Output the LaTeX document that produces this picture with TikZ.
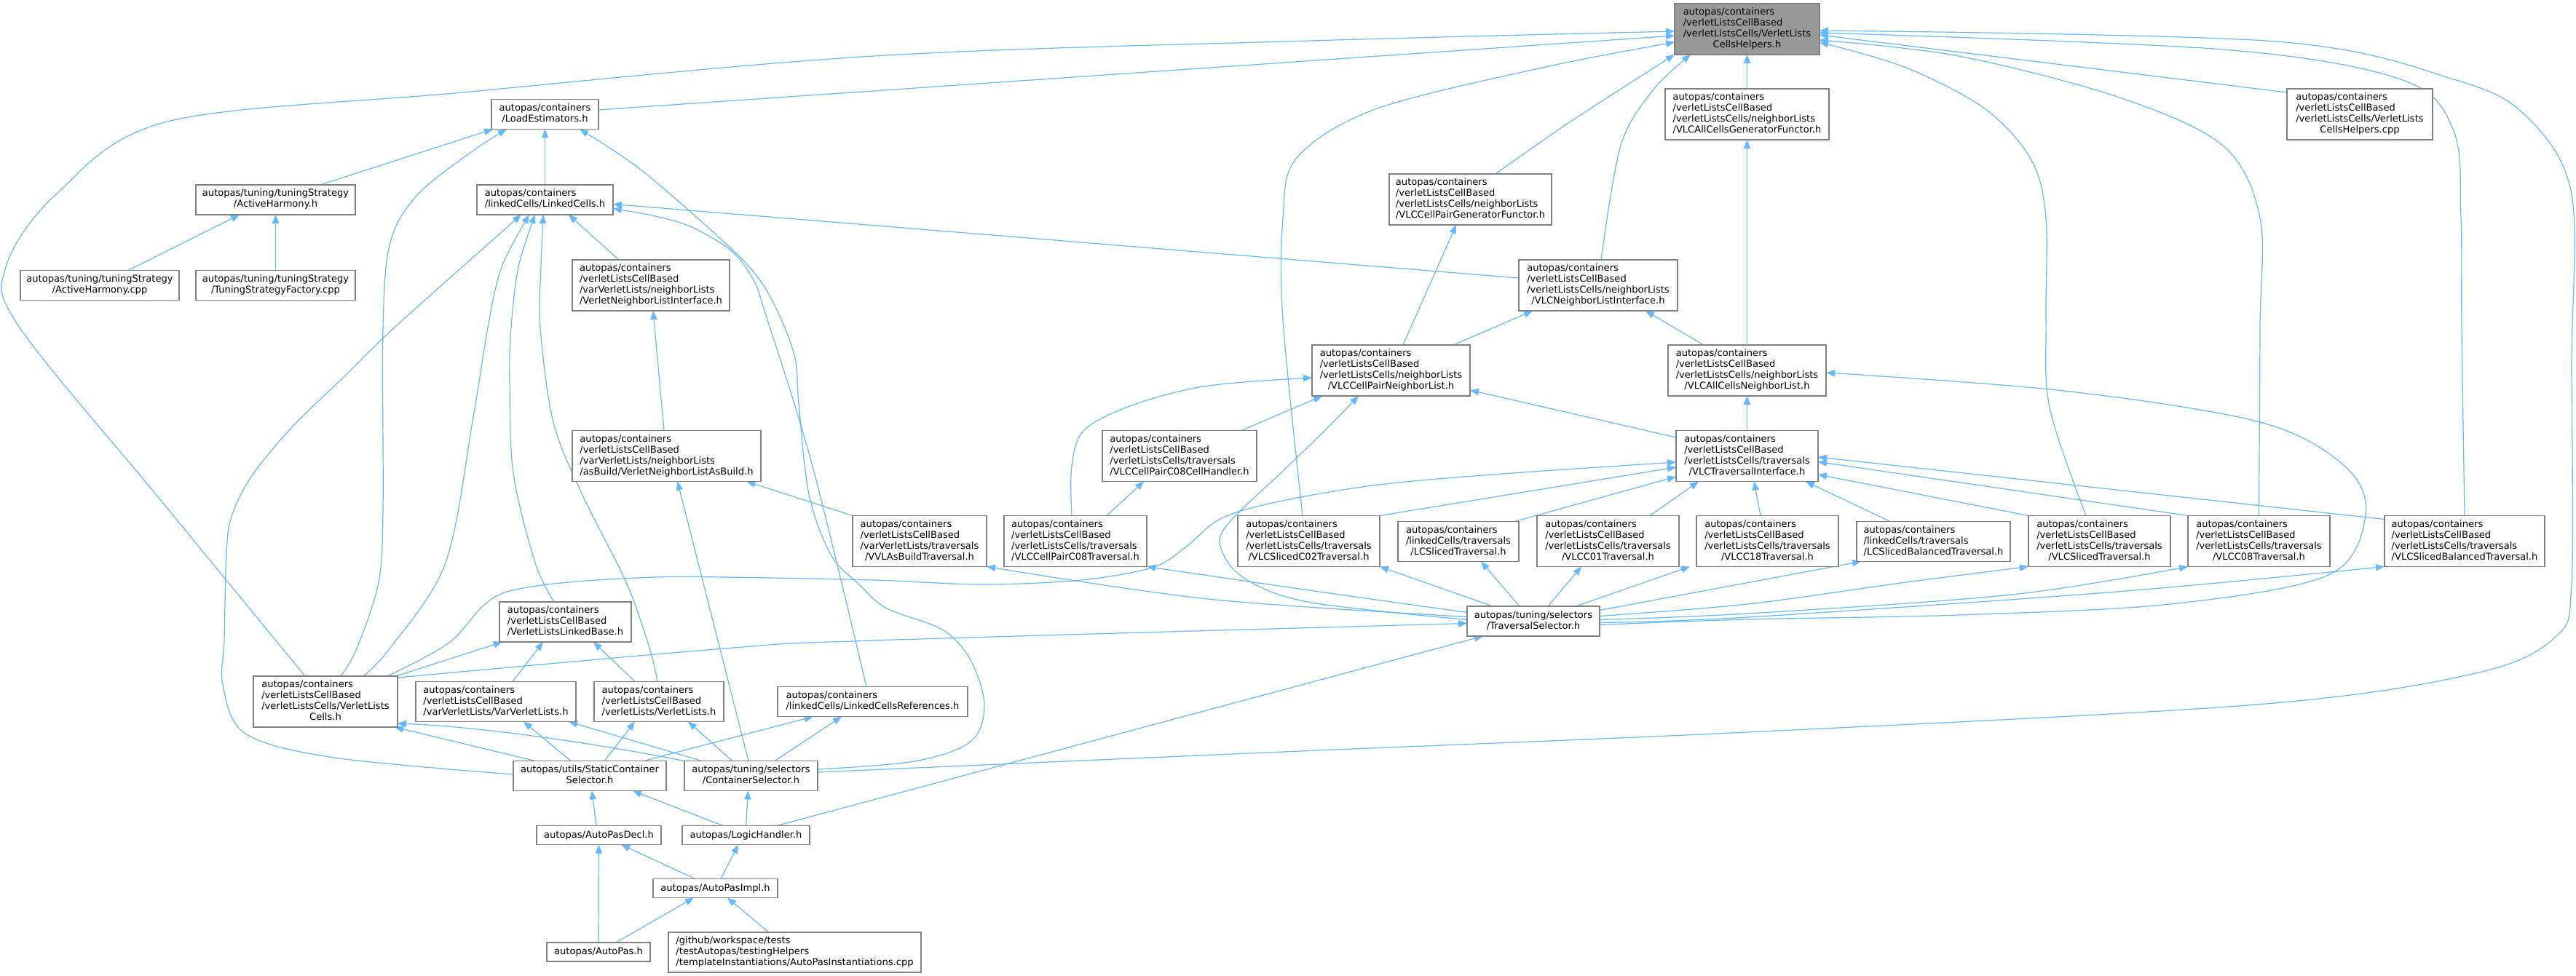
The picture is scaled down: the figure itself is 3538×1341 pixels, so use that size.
\documentclass[tikz,border=0pt]{standalone}
\usepackage{fontspec}
\setmainfont{DejaVu Sans}
\usetikzlibrary{arrows.meta,calc}
\definecolor{edgec}{HTML}{63B8FF}
\definecolor{boxc}{HTML}{808080}
\definecolor{mainf}{HTML}{999999}
\newcommand{\ml}[2]{\begin{tabular}{@{}l@{}}#1\\\multicolumn{1}{@{}c@{}}{#2}\end{tabular}}
\pgfdeclarelayer{bg}
\pgfsetlayers{bg,main}
\tikzset{
  box/.style={draw=boxc, fill=white, line width=1.1pt, inner sep=0pt, outer sep=0pt,
    font=\fontsize{9.8pt}{11.25pt}\selectfont},
  sz/.style 2 args={minimum width=#1*0.75pt, minimum height=#2*0.75pt},
  dep/.style={draw=edgec, line width=0.9pt, -{Triangle[length=9pt,width=7pt]}},
  sm/.style={smooth, tension=0.55}
}
\begin{document}
\begin{tikzpicture}[x=0.75pt,y=-0.75pt]
\renewcommand{\arraystretch}{1}
\useasboundingbox (0,0) rectangle (3538,1341);
% nodes
\node[box,sz={199}{70},fill=mainf] (main) at (2399.5,40) {\ml{autopas/containers\\/verletListsCellBased\\/verletListsCells/VerletLists}{CellsHelpers.h}};
\node[box,sz={147}{41}] (le) at (748.5,157) {\ml{autopas/containers}{/LoadEstimators.h}};
\node[box,sz={219}{41}] (ahh) at (378.5,274.5) {\ml{autopas/tuning/tuningStrategy}{/ActiveHarmony.h}};
\node[box,sz={187}{41}] (lc) at (748.5,274.5) {\ml{autopas/containers}{/linkedCells/LinkedCells.h}};
\node[box,sz={218}{41}] (ahcpp) at (137,392) {\ml{autopas/tuning/tuningStrategy}{/ActiveHarmony.cpp}};
\node[box,sz={219}{41}] (tsf) at (378.5,392) {\ml{autopas/tuning/tuningStrategy}{/TuningStrategyFactory.cpp}};
\node[box,sz={216}{70}] (vnli) at (894,392) {\ml{autopas/containers\\/verletListsCellBased\\/varVerletLists/neighborLists}{/VerletNeighborListInterface.h}};
\node[box,sz={225}{70}] (vlcacgf) at (2399.5,157) {\ml{autopas/containers\\/verletListsCellBased\\/verletListsCells/neighborLists}{/VLCAllCellsGeneratorFunctor.h}};
\node[box,sz={223}{70}] (vlccpgf) at (2019.5,274) {\ml{autopas/containers\\/verletListsCellBased\\/verletListsCells/neighborLists}{/VLCCellPairGeneratorFunctor.h}};
\node[box,sz={218}{70}] (vlcnli) at (2195,392) {\ml{autopas/containers\\/verletListsCellBased\\/verletListsCells/neighborLists}{/VLCNeighborListInterface.h}};
\node[box,sz={200}{70}] (hcpp) at (3241,157) {\ml{autopas/containers\\/verletListsCellBased\\/verletListsCells/VerletLists}{CellsHelpers.cpp}};
\node[box,sz={259}{70}] (vnlab) at (915.5,626.5) {\ml{autopas/containers\\/verletListsCellBased\\/varVerletLists/neighborLists}{/asBuild/VerletNeighborListAsBuild.h}};
\node[box,sz={181}{55}] (vllb) at (776.5,854.5) {\ml{autopas/containers\\/verletListsCellBased}{/VerletListsLinkedBase.h}};
\node[box,sz={184}{70}] (vvlabt) at (1263,743.5) {\ml{autopas/containers\\/verletListsCellBased\\/varVerletLists/traversals}{/VVLAsBuildTraversal.h}};
\node[box,sz={217}{70}] (vlccpnl) at (1910.5,509) {\ml{autopas/containers\\/verletListsCellBased\\/verletListsCells/neighborLists}{/VLCCellPairNeighborList.h}};
\node[box,sz={217}{70}] (vlcacnl) at (2399.5,509) {\ml{autopas/containers\\/verletListsCellBased\\/verletListsCells/neighborLists}{/VLCAllCellsNeighborList.h}};
\node[box,sz={212}{70}] (vlccpch) at (1620,626.5) {\ml{autopas/containers\\/verletListsCellBased\\/verletListsCells/traversals}{/VLCCellPairC08CellHandler.h}};
\node[box,sz={195}{70}] (vlcti) at (2399.5,626.5) {\ml{autopas/containers\\/verletListsCellBased\\/verletListsCells/traversals}{/VLCTraversalInterface.h}};
\node[box,sz={196}{70}] (vlccpt) at (1477,743.5) {\ml{autopas/containers\\/verletListsCellBased\\/verletListsCells/traversals}{/VLCCellPairC08Traversal.h}};
\node[box,sz={195}{70}] (vlcsc02) at (1797.5,743.5) {\ml{autopas/containers\\/verletListsCellBased\\/verletListsCells/traversals}{/VLCSlicedC02Traversal.h}};
\node[box,sz={166}{55}] (lcst) at (2003,744) {\ml{autopas/containers\\/linkedCells/traversals}{/LCSlicedTraversal.h}};
\node[box,sz={195}{70}] (vlcc01) at (2208.5,743.5) {\ml{autopas/containers\\/verletListsCellBased\\/verletListsCells/traversals}{/VLCC01Traversal.h}};
\node[box,sz={195}{70}] (vlcc18) at (2427.5,743.5) {\ml{autopas/containers\\/verletListsCellBased\\/verletListsCells/traversals}{/VLCC18Traversal.h}};
\node[box,sz={211}{55}] (lcsbt) at (2655.5,744) {\ml{autopas/containers\\/linkedCells/traversals}{/LCSlicedBalancedTraversal.h}};
\node[box,sz={195}{70}] (vlcst) at (2883.5,743.5) {\ml{autopas/containers\\/verletListsCellBased\\/verletListsCells/traversals}{/VLCSlicedTraversal.h}};
\node[box,sz={195}{70}] (vlcc08) at (3102.5,743.5) {\ml{autopas/containers\\/verletListsCellBased\\/verletListsCells/traversals}{/VLCC08Traversal.h}};
\node[box,sz={220}{70}] (vlcsbt) at (3385,743.5) {\ml{autopas/containers\\/verletListsCellBased\\/verletListsCells/traversals}{/VLCSlicedBalancedTraversal.h}};
\node[box,sz={182}{41}] (ts) at (2106,853.5) {\ml{autopas/tuning/selectors}{/TraversalSelector.h}};
\node[box,sz={198}{70}] (vlc) at (447,964) {\ml{autopas/containers\\/verletListsCellBased\\/verletListsCells/VerletLists}{Cells.h}};
\node[box,sz={220}{55}] (vvl) at (681,964) {\ml{autopas/containers\\/verletListsCellBased}{/varVerletLists/VarVerletLists.h}};
\node[box,sz={178}{55}] (vl) at (905,964) {\ml{autopas/containers\\/verletListsCellBased}{/verletLists/VerletLists.h}};
\node[box,sz={261}{41}] (lcr) at (1198.5,964) {\ml{autopas/containers}{/linkedCells/LinkedCellsReferences.h}};
\node[box,sz={210}{41}] (scs) at (810,1066) {\ml{autopas/utils/StaticContainer}{Selector.h}};
\node[box,sz={183}{41}] (cs) at (1031.5,1066) {\ml{autopas/tuning/selectors}{/ContainerSelector.h}};
\node[box,sz={171}{26}] (apd) at (822.5,1147.5) {autopas/AutoPasDecl.h};
\node[box,sz={175}{26}] (lh) at (1024.5,1147.5) {autopas/LogicHandler.h};
\node[box,sz={171}{26}] (api) at (982.5,1220.5) {autopas/AutoPasImpl.h};
\node[box,sz={142}{26}] (ap) at (822,1308) {autopas/AutoPas.h};
\node[box,sz={347}{55}] (inst) at (1091.5,1308.5) {\ml{/github/workspace/tests\\/testAutopas/testingHelpers}{/templateInstantiations/AutoPasInstantiations.cpp}};
% helper coordinates for curved connectors
\coordinate (a2) at ($(vlc.north)+(-28,0)$); \coordinate (b2) at ($(main.west)+(0,3)$);
\coordinate (a3) at ($(vlcsc02.north)+(-8.5,0)$); \coordinate (b3) at ($(main.west)+(0,18)$);
\coordinate (a4) at ($(vlccpgf.north)+(34.5,0)$);
\coordinate (a5) at ($(vlcnli.north)+(4,0)$); \coordinate (b5) at ($(main.south west)+(22,0)$);
\coordinate (a8) at ($(vlcst.north)+(-18.5,0)$); \coordinate (b8) at ($(main.east)+(0,18)$);
\coordinate (b9) at ($(main.east)+(0,15)$);
\coordinate (b10) at ($(main.east)+(0,5)$);
\coordinate (a11) at ($(cs.east)+(0,-5)$); \coordinate (b11) at ($(main.east)+(0,2)$);
\coordinate (a13) at ($(vlc.north)+(21,0)$); \coordinate (b13) at ($(le.south)+(-52.5,0)$);
\coordinate (a15) at ($(cs.east)+(0,-9)$); \coordinate (b15) at ($(le.south)+(47.5,0)$);
\coordinate (a16) at ($(lcr.north)+(-8.5,0)$); \coordinate (b16) at ($(lc.east)+(0,12)$);
\coordinate (a18) at ($(scs.west)+(0,-2)$); \coordinate (b18) at ($(lc.south)+(-32.5,0)$);
\coordinate (a19) at ($(vlc.north)+(52,0)$); \coordinate (b19) at ($(lc.south)+(-21.5,0)$);
\coordinate (a20) at ($(vllb.north)+(-15.5,0)$); \coordinate (b20) at ($(lc.south)+(-13.5,0)$);
\coordinate (a21) at ($(vl.north)+(-2,0)$); \coordinate (b21) at ($(lc.south)+(-2.5,0)$);
\coordinate (a33) at ($(vlccpt.north)+(-5,0)$); \coordinate (b33) at ($(vlccpnl.west)+(0,10)$);
\coordinate (a34) at ($(ts.west)+(0,-2)$); \coordinate (b34) at ($(vlccpnl.south)+(-44.5,0)$);
\coordinate (a37) at ($(ts.east)+(0,5)$); \coordinate (b37) at ($(vlcacnl.east)+(0,3)$);
\coordinate (a39) at ($(vlc.north)+(85,0)$); \coordinate (b39) at ($(vlcti.west)+(0,8.5)$);
\coordinate (a48) at ($(ts.west)+(0,-6)$);
\coordinate (a49) at ($(ts.west)+(0,-12)$);
\coordinate (a55) at ($(ts.east)+(0,-7)$);
\coordinate (a56) at ($(ts.east)+(0,-2)$);
\coordinate (a57) at ($(ts.east)+(0,2)$);
\coordinate (a58) at ($(vlc.north east)+(0,2)$); \coordinate (b58) at ($(ts.west)+(0,3)$);
\begin{pgfonlayer}{bg}
\fill[white] (0,0) rectangle (3538,1341);
% straight connectors
\draw[dep] ($(le.east)+(0,-6)$) -- ($(main.west)+(0,9)$);
\draw[dep] (vlcacgf.north) -- (main.south);
\draw[dep] ($(hcpp.west)+(0,-30)$) -- ($(main.east)+(0,8)$);
\draw[dep] ($(ahh.north)+(61.5,0)$) -- ($(le.south)+(-71.5,0)$);
\draw[dep] (lc.north) -- (le.south);
\draw[dep] ($(vlcnli.west)+(0,-10)$) -- ($(lc.east)+(0,6)$);
\draw[dep] ($(vnli.north)+(-44,0)$) -- ($(lc.south)+(32.5,0)$);
\draw[dep] ($(ahcpp.north)+(39,0)$) -- ($(ahh.south)+(-49.5,0)$);
\draw[dep] (tsf.north) -- (ahh.south);
\draw[dep] ($(vnlab.north)+(-3.5,0)$) -- ($(vnli.south)+(3,0)$);
\draw[dep] (vvlabt.north west) -- ($(vnlab.south)+(110,0)$);
\draw[dep] ($(cs.north)+(-3.5,0)$) -- ($(vnlab.south)+(15,0)$);
\draw[dep] ($(vlccpnl.north)+(16.5,0)$) -- ($(vlccpgf.south)+(-19.5,0)$);
\draw[dep] ($(vlccpnl.north)+(85.5,0)$) -- ($(vlcnli.south)+(-90,0)$);
\draw[dep] ($(vlcacnl.north)+(-59.5,0)$) -- ($(vlcnli.south)+(65,0)$);
\draw[dep] (vlcacnl.north) -- (vlcacgf.south);
\draw[dep] ($(vlccpch.north)+(85,0)$) -- ($(vlccpnl.south)+(-94.5,0)$);
\draw[dep] ($(vlcti.west)+(0,-25.5)$) -- ($(vlccpnl.east)+(0,27)$);
\draw[dep] (vlcti.north) -- (vlcacnl.south);
\draw[dep] ($(vlccpt.north)+(43,0)$) -- ($(vlccpch.south)+(-49,0)$);
\draw[dep] (vlcsc02.north east) -- ($(vlcti.west)+(0,15.5)$);
\draw[dep] ($(lcst.north)+(77,0)$) -- ($(vlcti.west)+(0,28.5)$);
\draw[dep] ($(vlcc01.north)+(57.5,0)$) -- ($(vlcti.south)+(-66.5,0)$);
\draw[dep] ($(vlcc18.north)+(-9.5,0)$) -- ($(vlcti.south)+(9.5,0)$);
\draw[dep] ($(lcsbt.north)+(-59.5,0)$) -- ($(vlcti.south)+(80.5,0)$);
\draw[dep] (vlcst.north west) -- ($(vlcti.east)+(0,25.5)$);
\draw[dep] (vlcc08.north west) -- ($(vlcti.east)+(0,8)$);
\draw[dep] ($(vlcsbt.north west)+(0,5)$) -- ($(vlcti.east)+(0,1.5)$);
\draw[dep] ($(ts.north)+(-56,0)$) -- (vlcsc02.south east);
\draw[dep] ($(ts.north)+(-19,0)$) -- ($(lcst.south)+(31,0)$);
\draw[dep] ($(ts.north)+(20,0)$) -- ($(vlcc01.south)+(-36.5,0)$);
\draw[dep] ($(ts.north)+(58,0)$) -- ($(vlcc18.south)+(-106.5,0)$);
\draw[dep] ($(ts.east)+(0,-15)$) -- ($(lcsbt.south)+(-99.5,0)$);
\draw[dep] ($(lh.north)+(42.5,0)$) -- ($(ts.south)+(-69,0)$);
\draw[dep] ($(vlc.north east)+(-2,0)$) -- ($(vllb.south west)+(4,0)$);
\draw[dep] ($(vvl.north)+(23,0)$) -- ($(vllb.south)+(-30.5,0)$);
\draw[dep] ($(vl.north)+(-33,0)$) -- ($(vllb.south)+(38.5,0)$);
\draw[dep] ($(scs.north)+(-75,0)$) -- ($(vlc.south east)+(-4,0)$);
\draw[dep] ($(scs.north)+(-26,0)$) -- ($(vvl.south)+(38,0)$);
\draw[dep] ($(cs.north)+(-67.5,0)$) -- ($(vvl.south)+(100,0)$);
\draw[dep] ($(scs.north)+(20,0)$) -- ($(vl.south)+(-33,0)$);
\draw[dep] ($(cs.north)+(-25.5,0)$) -- ($(vl.south)+(40,0)$);
\draw[dep] ($(scs.north)+(74,0)$) -- ($(lcr.south)+(-81.5,0)$);
\draw[dep] ($(cs.north)+(32.5,0)$) -- ($(lcr.south)+(-42.5,0)$);
\draw[dep] ($(apd.north)+(-3.5,0)$) -- ($(scs.south)+(3,0)$);
\draw[dep] ($(lh.north)+(-31.5,0)$) -- ($(scs.south)+(59,0)$);
\draw[dep] (lh.north) -- ($(cs.south)+(-4,0)$);
\draw[dep] ($(api.north)+(-27.5,0)$) -- ($(apd.south)+(30.5,0)$);
\draw[dep] (ap.north) -- (apd.south);
\draw[dep] ($(api.north)+(7.5,0)$) -- ($(lh.south)+(-10.5,0)$);
\draw[dep] ($(ap.north)+(24,0)$) -- ($(api.south)+(-29.5,0)$);
\draw[dep] ($(inst.north)+(-35.5,0)$) -- ($(api.south)+(16.5,0)$);
\draw[dep] (cs.north west) .. controls (800,1018) and (650,998) .. ($(vlc.east)+(0,30)$);
% curved connectors
\draw[dep] plot[sm] coordinates {(a2) (223,690) (27,450) (8,367) (77,267) (230,167) (635,127) (1200,77) (1800,56) (b2)};
\draw[dep] plot[sm] coordinates {(a3) (1762,440) (1762,300) (1781,217) (1889,150) (2118,93) (b3)};
\draw[dep] plot[sm] coordinates {(a4) (2157,167) (main.south west)};
\draw[dep] plot[sm] coordinates {(a5) (2226,200) (2271,123) (b5)};
\draw[dep] plot[sm] coordinates {(a8) (2815,560) (2810,440) (2810,300) (2790,220) (2727,150) (2618,93) (b8)};
\draw[dep] plot[sm] coordinates {(vlcc08.north) (3104,450) (3104,300) (3053,200) (2908,133) (2690,77) (b9)};
\draw[dep] plot[sm] coordinates {(vlcsbt.north) (3381,450) (3380,300) (3370,180) (3300,110) (3053,68) (b10)};
\draw[dep] plot[sm] coordinates {(a11) (1762,1033) (2400,1006) (3100,968) (3400,925) (3510,875) (3532,800) (3532,500) (3532,267) (3470,160) (3373,110) (3126,57) (b11)};
\draw[dep] plot[sm] coordinates {(a13) (490,891) (520,800) (526,700) (526,450) (536,333) (574,267) (650,207) (b13)};
\draw[dep] plot[sm] coordinates {(a15) (1256,1046) (1333,1019) (1352,969) (1333,907) (1294,865) (1218,836) (1180,803) (1141,762) (1111,679) (1097,554) (1092,492) (1069,430) (1040,380) (995,333) (880,233) (b15)};
\draw[dep] plot[sm] coordinates {(a16) (1115,637) (1051,430) (1035,385) (1005,345) (950,312) (900,297) (b16)};
\draw[dep] plot[sm] coordinates {(a18) (459,1041) (337,1008) (306,941) (308,880) (311,760) (318,710) (345,655) (400,588) (470,520) (545,447) (b18)};
\draw[dep] plot[sm] coordinates {(a19) (536,890) (612,773) (650,573) (670,450) (689,367) (b19)};
\draw[dep] plot[sm] coordinates {(a20) (735,773) (705,650) (700,520) (702,450) (712,367) (b20)};
\draw[dep] plot[sm] coordinates {(a21) (892,890) (860,800) (800,680) (760,580) (742,450) (743,367) (b21)};
\draw[dep] plot[sm] coordinates {(a33) (1472,640) (1490,590) (1560,555) (1660,530) (b33)};
\draw[dep] plot[sm] coordinates {(a34) (1796,827) (1707,793) (1676,750) (1689,717) (1759,650) (1816,595) (b34)};
\draw[dep] plot[sm] coordinates {(a37) (2400,851) (2690,845) (2981,830) (3198,790) (3249,707) (3220,640) (3104,580) (2835,537) (b37)};
\draw[dep] plot[sm] coordinates {(a39) (580,905) (623,878) (664,832) (700,812) (780,800) (900,793) (995,793) (1200,797) (1350,803) (1484,797) (1582,780) (1627,753) (1676,713) (1752,690) (1886,667) (2050,652) (b39)};
\draw[dep] plot[sm] coordinates {(a48) (1659,823) (vvlabt.south east)};
\draw[dep] plot[sm] coordinates {(a49) (1812,813) (vlccpt.south east)};
\draw[dep] plot[sm] coordinates {(a55) (2400,830) (2618,800) (vlcst.south west)};
\draw[dep] plot[sm] coordinates {(a56) (2400,843) (2763,817) (vlcc08.south west)};
\draw[dep] plot[sm] coordinates {(a57) (2400,848) (2908,813) (vlcsbt.south west)};
\draw[dep] plot[sm] coordinates {(a58) (995,891) (1200,880) (b58)};
\end{pgfonlayer}
\end{tikzpicture}
\end{document}
